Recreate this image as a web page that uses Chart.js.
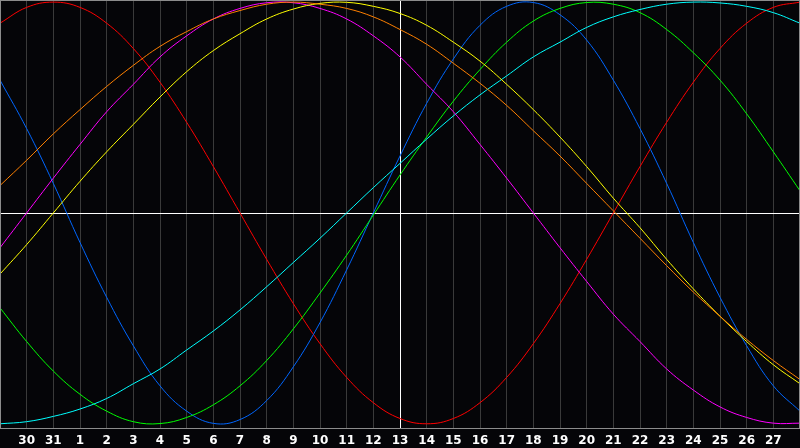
<!DOCTYPE html>
<html>
<head>
<meta charset="utf-8">
<script src="https://cdn.jsdelivr.net/npm/chart.js@4"></script>
<style>
  html, body { margin: 0; padding: 0; background: #050508; }
  canvas { display: block; }
</style>
</head>
<body>
<canvas id="bio" width="800" height="448"></canvas>
<script>
// Day labels along the bottom (first and last sit on the frame edges, not drawn)
const days = [29, 30, 31, 1, 2, 3, 4, 5, 6, 7, 8, 9, 10, 11, 12, 13, 14, 15, 16, 17, 18, 19, 20, 21, 22, 23, 24, 25, 26, 27, 28];
const todayIndex = 15;

// Cycle values, one per day (-1 .. 1)
const red = [0.90, 0.975, 1.00, 0.975, 0.90, 0.78, 0.62, 0.43, 0.22, 0.00, -0.22, -0.43, -0.62, -0.78, -0.90, -0.975, -1.00, -0.975, -0.90, -0.78, -0.62, -0.43, -0.22, 0.00, 0.22, 0.43, 0.62, 0.78, 0.90, 0.975, 1.00];
const blue = [0.63, 0.40, 0.14, -0.14, -0.40, -0.63, -0.82, -0.94, -0.998, -0.98, -0.89, -0.73, -0.52, -0.27, 0.00, 0.27, 0.52, 0.73, 0.89, 0.98, 0.998, 0.94, 0.82, 0.63, 0.40, 0.14, -0.14, -0.40, -0.63, -0.82, -0.94];
const green = [-0.45, -0.61, -0.75, -0.86, -0.94, -0.99, -0.999, -0.97, -0.91, -0.82, -0.70, -0.55, -0.38, -0.20, -0.01, 0.18, 0.36, 0.53, 0.68, 0.81, 0.91, 0.97, 0.998, 0.99, 0.95, 0.87, 0.76, 0.63, 0.47, 0.29, 0.105];
const cyan = [-1.00, -0.99, -0.965, -0.93, -0.88, -0.81, -0.74, -0.65, -0.56, -0.46, -0.35, -0.235, -0.12, 0.00, 0.12, 0.235, 0.35, 0.46, 0.56, 0.65, 0.74, 0.81, 0.88, 0.93, 0.965, 0.99, 1.00, 0.996, 0.98, 0.95, 0.90];
const orange = [0.13, 0.25, 0.375, 0.49, 0.60, 0.70, 0.79, 0.86, 0.92, 0.96, 0.99, 1.00, 0.99, 0.97, 0.93, 0.87, 0.80, 0.71, 0.615, 0.51, 0.39, 0.27, 0.14, 0.01, -0.12, -0.25, -0.375, -0.49, -0.60, -0.70, -0.79];
const magenta = [-0.165, 0.00, 0.165, 0.325, 0.48, 0.61, 0.74, 0.84, 0.92, 0.97, 0.997, 0.997, 0.97, 0.92, 0.84, 0.74, 0.61, 0.48, 0.325, 0.165, 0.00, -0.165, -0.325, -0.48, -0.61, -0.74, -0.84, -0.92, -0.97, -0.997, -0.997];
const yellow = [-0.29, -0.15, 0.00, 0.15, 0.29, 0.42, 0.55, 0.67, 0.77, 0.85, 0.92, 0.967, 0.994, 0.999, 0.98, 0.946, 0.89, 0.81, 0.72, 0.61, 0.49, 0.36, 0.22, 0.07, -0.07, -0.22, -0.36, -0.49, -0.61, -0.72, -0.81];

const series = [
    { data: orange, color: '#ff8000' },
    { data: yellow, color: '#ffff00' },
    { data: magenta, color: '#ff00ff' },
    { data: cyan, color: '#00ffff' },
    { data: green, color: '#00ff00' },
    { data: blue, color: '#0066ff' },
    { data: red, color: '#ff0000' }
];

// Frame, centre line and today marker
const framePlugin = {
    id: 'frame',
    beforeDraw(chart) {
        const ctx = chart.ctx;
        ctx.save();
        ctx.fillStyle = '#050508';
        ctx.fillRect(0, 0, chart.width, chart.height);
        ctx.restore();
    },
    beforeDatasetsDraw(chart) {
        const ctx = chart.ctx;
        const a = chart.chartArea;
        const x = chart.scales.x.getPixelForValue(todayIndex);
        const y = chart.scales.y.getPixelForValue(0);
        ctx.save();
        ctx.strokeStyle = '#ffffff';
        ctx.lineWidth = 1;
        ctx.beginPath();
        ctx.moveTo(a.left, Math.round(y) + 0.5);
        ctx.lineTo(a.right, Math.round(y) + 0.5);
        ctx.moveTo(Math.round(x) + 0.5, a.top);
        ctx.lineTo(Math.round(x) + 0.5, a.bottom);
        ctx.stroke();
        ctx.restore();
    },
    afterDraw(chart) {
        const ctx = chart.ctx;
        const a = chart.chartArea;
        ctx.save();
        ctx.strokeStyle = '#8c8c8c';
        ctx.lineWidth = 1;
        ctx.strokeRect(a.left + 0.5, a.top + 0.5, a.right - a.left - 1, a.bottom - a.top);
        ctx.restore();
    }
};

new Chart(document.getElementById('bio'), {
    type: 'line',
    data: {
        datasets: series.map(s => ({
            data: s.data.map((v, i) => ({ x: i, y: v })),
            borderColor: s.color,
            borderWidth: 1,
            pointRadius: 0,
            pointHitRadius: 0,
            tension: 0.4,
            fill: false
        }))
    },
    options: {
        responsive: false,
        animation: false,
        layout: { padding: 0, autoPadding: false },
        plugins: {
            legend: { display: false },
            tooltip: { enabled: false }
        },
        scales: {
            x: {
                type: 'linear',
                min: 0,
                max: days.length - 1,
                border: { display: false },
                grid: {
                    color: '#3a3a3a',
                    drawTicks: false
                },
                ticks: {
                    stepSize: 1,
                    autoSkip: false,
                    maxRotation: 0,
                    padding: 6,
                    color: '#ffffff',
                    font: { family: 'DejaVu Sans', size: 12, weight: 'bold' },
                    callback: (v) => (v === 0 || v === days.length - 1) ? '' : String(days[v])
                },
                afterFit: (s) => {
                    s.height = 20;
                    s.paddingLeft = 0;
                    s.paddingRight = 0;
                }
            },
            y: {
                display: false,
                min: -1.02,
                max: 1.01
            }
        }
    },
    plugins: [framePlugin]
});
</script>
</body>
</html>
